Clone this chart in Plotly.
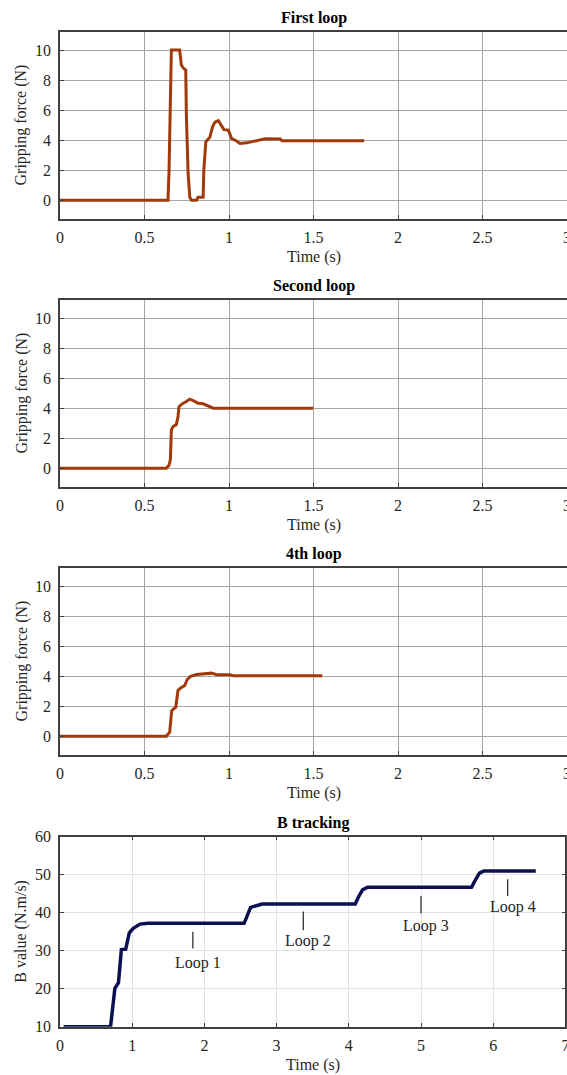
import plotly.graph_objects as go

# ---------------- data ----------------
t_first = [0, 0.639, 0.645, 0.653, 0.659, 0.708, 0.712, 0.718, 0.730, 0.744, 0.748, 0.758,
           0.768, 0.778, 0.808, 0.817, 0.847, 0.851, 0.863, 0.887, 0.903, 0.917, 0.937,
           0.956, 0.970, 0.996, 1.016, 1.042, 1.065, 1.105, 1.145, 1.165, 1.214, 1.304,
           1.313, 1.80]
f_first = [0, 0, 1.9, 7.8, 10, 10, 9.6, 9.0, 8.8, 8.67, 5.56, 1.8,
           0.2, 0, 0, 0.2, 0.2, 2.0, 3.9, 4.2, 4.9, 5.2, 5.3,
           4.9, 4.7, 4.67, 4.1, 3.96, 3.78, 3.82, 3.93, 4.0, 4.09, 4.07,
           3.96, 3.96]

t_second = [0, 0.629, 0.645, 0.653, 0.659, 0.669, 0.688, 0.698, 0.704, 0.724, 0.748,
            0.768, 0.788, 0.817, 0.847, 0.871, 0.897, 0.907, 1.498]
f_second = [0, 0, 0.2, 0.56, 2.56, 2.78, 2.9, 3.4, 4.1, 4.3, 4.44,
            4.6, 4.5, 4.33, 4.29, 4.16, 4.04, 4.0, 4.0]

t_fourth = [0, 0.629, 0.649, 0.655, 0.661, 0.685, 0.698, 0.712, 0.738, 0.752, 0.772,
            0.808, 0.867, 0.897, 0.927, 1.006, 1.026, 1.552]
f_fourth = [0, 0, 0.27, 1.27, 1.7, 1.93, 3.04, 3.2, 3.38, 3.76, 3.98,
            4.11, 4.16, 4.2, 4.1, 4.1, 4.02, 4.02]

t_b = [0.05, 0.70, 0.76, 0.81, 0.85, 0.91, 0.96, 1.015, 1.108, 1.22, 2.55, 2.59, 2.64,
       2.80, 4.09, 4.13, 4.19, 4.26, 5.70, 5.75, 5.81, 5.87, 6.59]
b_val = [10, 10, 20.1, 21.6, 30.3, 30.4, 34.7, 35.9, 37.0, 37.2, 37.2, 39.0, 41.4,
         42.3, 42.3, 44.0, 46.0, 46.7, 46.7, 48.5, 50.4, 51.0, 51.0]

loop_names = ["Loop 1", "Loop 2", "Loop 3", "Loop 4"]
loop_t = [1.84, 3.37, 5.0, 6.2]
loop_tick_top = [35.0, 40.3, 44.4, 48.8]
loop_tick_bottom = [30.6, 35.4, 39.8, 44.4]
loop_text_y = [26.8, 32.6, 36.5, 41.4]

titles = ["First loop", "Second loop", "4th loop", "B tracking"]
force_ticks = [0, 2, 4, 6, 8, 10]
time_ticks_top = [0, 0.5, 1, 1.5, 2, 2.5, 3]
time_ticklabels_top = ["0", "0.5", "1", "1.5", "2", "2.5", "3"]
b_ticks = [10, 20, 30, 40, 50, 60]
time_ticks_b = [0, 1, 2, 3, 4, 5, 6, 7]

# ---------------- layout geometry (pixels) ----------------
W, H = 567, 1075
FONT = "Liberation Serif"
FORCE_COLOR = "#A13A0B"
B_COLOR = "#0B1050"

panels = [  # (left, right, top, bottom)
    (60, 567, 32, 219),
    (60, 567, 300, 487),
    (60, 567, 568, 755),
    (60, 565.4, 836.7, 1026.7),
]


def xd(l, r):
    return [l / W, r / W]


def yd(t, b):
    return [1 - b / H, 1 - t / H]


fig = go.Figure()

force_sets = [(t_first, f_first), (t_second, f_second), (t_fourth, f_fourth)]
for i, (tt, ff) in enumerate(force_sets):
    n = "" if i == 0 else str(i + 1)
    fig.add_trace(go.Scatter(x=tt, y=ff, mode="lines", xaxis="x" + n, yaxis="y" + n,
                             line=dict(color=FORCE_COLOR, width=3), showlegend=False,
                             hoverinfo="skip"))

fig.add_trace(go.Scatter(x=t_b, y=b_val, mode="lines", xaxis="x4", yaxis="y4",
                         line=dict(color=B_COLOR, width=3.5), showlegend=False,
                         hoverinfo="skip"))

tickfont = dict(family=FONT, size=16, color="#262626")
layout = dict(width=W, height=H, margin=dict(l=0, r=0, t=0, b=0),
              font=dict(family=FONT, size=16, color="#262626"),
              paper_bgcolor="white", plot_bgcolor="white", showlegend=False)

for i in range(3):
    n = "" if i == 0 else str(i + 1)
    l, r, t, b = panels[i]
    layout["xaxis" + n] = dict(domain=xd(l, r), anchor="y" + n, range=[0, 3],
                               tickvals=time_ticks_top, ticktext=time_ticklabels_top,
                               showgrid=True, gridcolor="#A6A6A6", gridwidth=1.2,
                               showline=True, linecolor="#404040", linewidth=1.5,
                               mirror=True, ticks="inside", ticklen=4, tickcolor="#404040",
                               tickfont=tickfont, zeroline=False, automargin=False,
                               ticklabelstandoff=3, ticklabeloverflow="allow")
    layout["yaxis" + n] = dict(domain=yd(t, b), anchor="x" + n, range=[-1.25, 11.2],
                               tickvals=force_ticks, showgrid=True, gridcolor="#A6A6A6",
                               gridwidth=1.2, showline=True, linecolor="#404040",
                               linewidth=1.5, mirror=False, ticks="inside", ticklen=4,
                               tickcolor="#404040", tickfont=tickfont, zeroline=False,
                               automargin=False, ticklabelstandoff=4)

l, r, t, b = panels[3]
layout["xaxis4"] = dict(domain=xd(l, r), anchor="y4", range=[0, 7], tickvals=time_ticks_b,
                        showgrid=True, gridcolor="#E3E3E3", gridwidth=1,
                        showline=True, linecolor="#404040", linewidth=1.5, mirror="ticks",
                        ticks="inside", ticklen=4, tickcolor="#404040", tickfont=tickfont,
                        zeroline=False, automargin=False, ticklabelstandoff=3,
                        ticklabeloverflow="allow")
layout["yaxis4"] = dict(domain=yd(t, b), anchor="x4", range=[10, 60], tickvals=b_ticks,
                        showgrid=True, gridcolor="#E3E3E3", gridwidth=1,
                        showline=True, linecolor="#404040", linewidth=1.5, mirror="ticks",
                        ticks="inside", ticklen=4, tickcolor="#404040", tickfont=tickfont,
                        zeroline=False, automargin=False, ticklabelstandoff=4)

fig.update_layout(**layout)

# ---------------- text: titles & axis titles ----------------
anns = []
for i, (l, r, t, b) in enumerate(panels):
    cx = (l + r) / 2 / W
    anns.append(dict(text="<b>" + titles[i] + "</b>", x=cx, y=1 - (t - 14) / H,
                     xref="paper", yref="paper", showarrow=False, xanchor="center",
                     yanchor="middle", font=dict(family=FONT, size=16, color="black")))
    anns.append(dict(text="Time (s)", x=cx, y=1 - (b + 38) / H, xref="paper",
                     yref="paper", showarrow=False, xanchor="center", yanchor="middle",
                     font=dict(family=FONT, size=16, color="#262626")))
    ylab = "Gripping force (N)" if i < 3 else "B value (N.m/s)"
    anns.append(dict(text=ylab, x=21 / W, y=1 - (t + b) / 2 / H, xref="paper",
                     yref="paper", showarrow=False, textangle=-90, xanchor="center",
                     yanchor="middle", font=dict(family=FONT, size=16, color="#262626")))

# loop labels in B tracking panel
for name, lt, ty in zip(loop_names, loop_t, loop_text_y):
    anns.append(dict(text=name, x=lt, y=ty, xref="x4", yref="y4", showarrow=False,
                     xanchor="center", yanchor="middle", xshift=5,
                     font=dict(family=FONT, size=16, color="#262626")))
fig.update_layout(annotations=anns)

shapes = []
for lt, y0, y1 in zip(loop_t, loop_tick_bottom, loop_tick_top):
    shapes.append(dict(type="line", xref="x4", yref="y4", x0=lt, x1=lt, y0=y0, y1=y1,
                       line=dict(color="#333333", width=1.3)))
fig.update_layout(shapes=shapes)

fig.write_html("out.html", config={"displayModeBar": False},
               post_script="document.body.style.margin='0px';"
                           "document.body.style.overflow='hidden';")
